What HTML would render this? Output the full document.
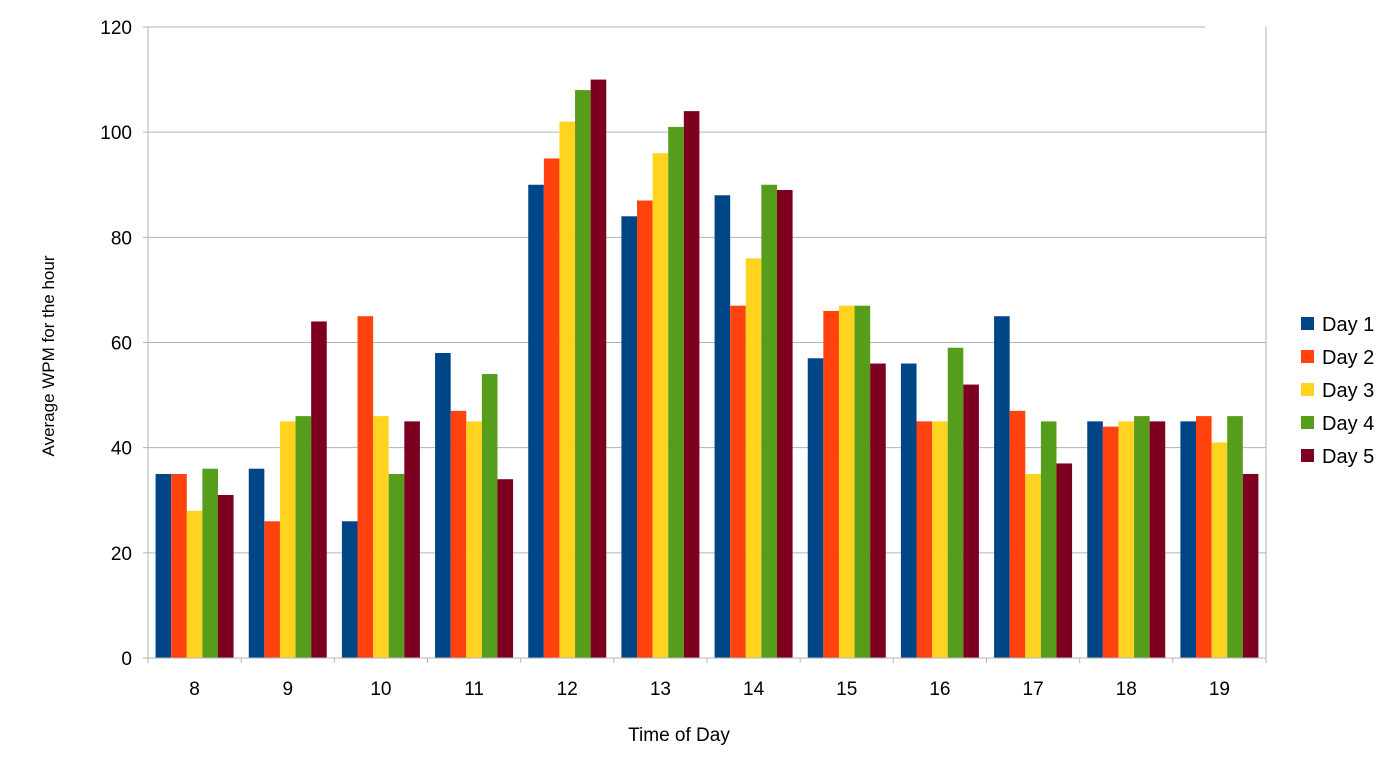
<!DOCTYPE html>
<html><head><meta charset="utf-8"><style>
body{margin:0;background:#fff;}
svg text{font-family:"Liberation Sans",sans-serif;fill:#000;}
</style></head><body>
<svg id="chart" width="1395" height="757">
<g id="grid"></g><g id="bars"></g><g id="axes"></g><g id="legend"></g>
<text x="679" y="741" font-size="19" text-anchor="middle">Time of Day</text>
<text transform="translate(54,356) rotate(-90)" font-size="17" text-anchor="middle">Average WPM for the hour</text>
</svg>
<script>
const categories=["8","9","10","11","12","13","14","15","16","17","18","19"];
const seriesNames=["Day 1","Day 2","Day 3","Day 4","Day 5"];
const day1=[35,36,26,58,90,84,88,57,56,65,45,45];
const day2=[35,26,65,47,95,87,67,66,45,47,44,46];
const day3=[28,45,46,45,102,96,76,67,45,35,45,41];
const day4=[36,46,35,54,108,101,90,67,59,45,46,46];
const day5=[31,64,45,34,110,104,89,56,52,37,45,35];
const yTicks=[0,20,40,60,80,100,120];
const series=[day1,day2,day3,day4,day5];
const colors=["#004586","#ff420e","#ffd320","#579d1c","#7e0021"];
const NS="http://www.w3.org/2000/svg";
const X0=148,X1=1266,Y0=658,Y1=27,YMAX=120;
const cw=(X1-X0)/categories.length;
const y=v=>Y0-(v/YMAX)*(Y0-Y1);
const xc=i=>X0+i*cw;
function mk(t,a,p){const e=document.createElementNS(NS,t);for(const k in a)e.setAttribute(k,a[k]);p.appendChild(e);return e;}
const grid=document.getElementById('grid'),bars=document.getElementById('bars'),axes=document.getElementById('axes'),leg=document.getElementById('legend');
yTicks.forEach(t=>{
 const l=mk('line',{x1:X0-5,x2:(t===YMAX?1205:X1),y1:y(t),y2:y(t),stroke:'#b3b3b3','stroke-width':1},grid);
 
 
 const tx=mk('text',{x:132,y:y(t)+7,'font-size':19,'text-anchor':'end'},axes);
 tx.textContent=t;
 
 
});
mk('line',{x1:X1,x2:X1,y1:Y1,y2:Y0,stroke:'#b3b3b3'},grid);
mk('line',{x1:X0,x2:X0,y1:Y1,y2:Y0,stroke:'#b3b3b3'},axes);
const bw=15.6,gap=(cw-5*bw)/2;
categories.forEach((c,i)=>{
 series.forEach((s,j)=>{
  const r=mk('rect',{x:xc(i)+gap+j*bw,y:y(s[i]),width:bw,height:Y0-y(s[i]),fill:colors[j]},bars);
  
  
 });
 const tx=mk('text',{x:xc(i)+cw/2,y:695,'font-size':19,'text-anchor':'middle'},axes);
 tx.textContent=c;
 
 
});
for(let i=0;i<=categories.length;i++)mk('line',{x1:xc(i),x2:xc(i),y1:Y0,y2:Y0+5,stroke:'#b3b3b3'},axes);
mk('line',{x1:X0-5,x2:X1,y1:Y0,y2:Y0,stroke:'#b3b3b3'},axes);
seriesNames.forEach((n,j)=>{
 const g=mk('g',{},leg);
 
 
 const yy=324+j*33;
 mk('rect',{x:1301,y:yy-7,width:13,height:13,fill:colors[j]},g);
 const t=mk('text',{x:1322,y:yy+7,'font-size':20},g);t.textContent=n;
});
</script>
</body></html>
